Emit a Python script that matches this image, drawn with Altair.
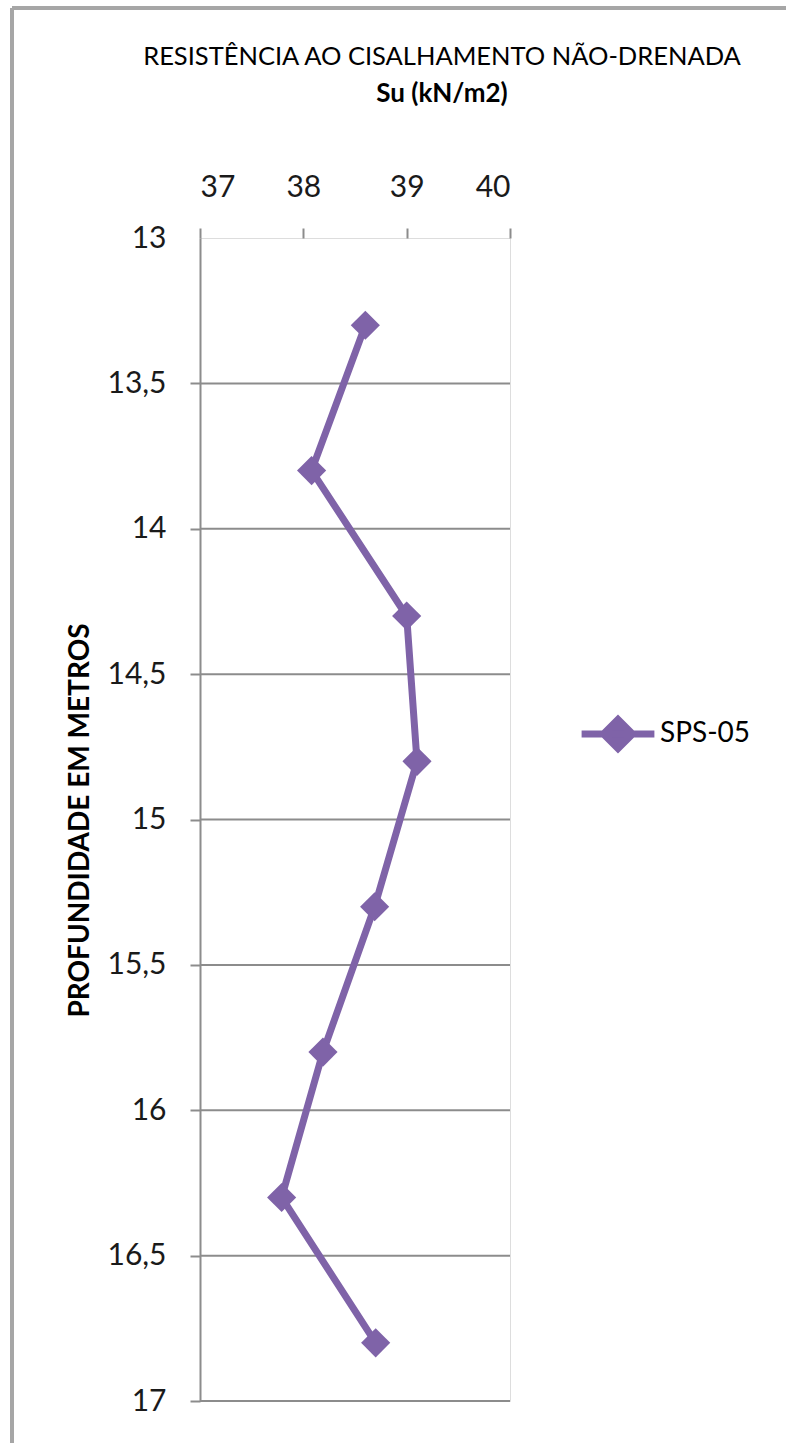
import altair as alt
import pandas as pd

# Data
depth_m = [13.3, 13.8, 14.3, 14.8, 15.3, 15.8, 16.3, 16.8]
su_kn_m2 = [38.60, 38.08, 39.00, 39.10, 38.69, 38.19, 37.79, 38.70]
series_name = ["SPS-05"] * len(depth_m)

x_ticks = [37, 38, 39, 40]
y_ticks = [13, 13.5, 14, 14.5, 15, 15.5, 16, 16.5, 17]
grid_lines = [13.5, 14, 14.5, 15, 15.5, 16, 16.5, 17]

df = pd.DataFrame({"depth": depth_m, "su": su_kn_m2, "serie": series_name})
grid_df = pd.DataFrame({"depth": grid_lines})

PURPLE = "#7F63A8"
GRID = "#8c8c8c"
FONT = "Lato"
HIDE_13 = {"condition": {"test": "datum.value === 13", "value": 0}, "value": 1}

x_scale = alt.Scale(domain=[37, 40], nice=False, zero=False)
y_scale = alt.Scale(domain=[13, 17], reverse=True, nice=False, zero=False)

x_axis = alt.Axis(
    orient="top",
    values=x_ticks,
    format="d",
    title=None,
    grid=False,
    domain=False,
    domainOpacity=0,
    ticks=True,
    tickSize=10,
    tickColor=GRID,
    tickWidth=2,
    labelPadding=26,
    labelFontSize=30,
    labelFont=FONT,
    labelColor="#1a1a1a",
)

grid = alt.Chart(grid_df).mark_rule(color=GRID, strokeWidth=2).encode(
    y=alt.Y("depth:Q", scale=y_scale),
    x=alt.datum(37, scale=x_scale, axis=x_axis),
    x2=alt.datum(40),
)

line = alt.Chart(df).mark_line(
    strokeWidth=7,
    point=alt.OverlayMarkDef(shape="diamond", size=850, filled=True, opacity=1),
).encode(
    x=alt.X("su:Q", scale=x_scale, axis=x_axis),
    y=alt.Y(
        "depth:Q",
        scale=y_scale,
        axis=alt.Axis(
            values=y_ticks,
            format="~g",
            title="PROFUNDIDADE EM METROS",
            titleFont=FONT,
            titleFontSize=28,
            titleFontWeight="bold",
            titleColor="#000000",
            titleAngle=-90,
            titleX=-120,
            titleY=582,
            titleAlign="center",
            titleBaseline="middle",
            grid=False,
            domain=True,
            domainColor=GRID,
            domainWidth=2,
            tickSize=10,
            tickWidth=2,
            tickColor=GRID,
            tickOpacity=HIDE_13,
            labelPadding=24,
            labelFontSize=30,
            labelFont=FONT,
            labelColor="#1a1a1a",
            labelExpr="replace(datum.label, '.', ',')",
        ),
    ),
    order=alt.Order("depth:Q"),
    color=alt.Color(
        "serie:N",
        scale=alt.Scale(range=[PURPLE]),
        legend=alt.Legend(
            title=None,
            orient="none",
            legendX=378,
            legendY=456,
            symbolType="M-1,0L1,0M0,-0.4L0.4,0L0,0.4L-0.4,0Z",
            symbolSize=5300,
            symbolStrokeWidth=7,
            symbolFillColor=PURPLE,
            symbolStrokeColor=PURPLE,
            labelFontSize=28,
            labelFont=FONT,
            labelColor="#000000",
            labelOffset=2,
        ),
    ),
)

frame_left = alt.Chart(df).mark_rule(color="#a6a6a6", strokeWidth=3).encode(
    x=alt.value(-188), y=alt.value(-230), y2=alt.value(1210)
)
frame_top = alt.Chart(df).mark_rule(color="#a6a6a6", strokeWidth=3).encode(
    x=alt.value(-188), x2=alt.value(600), y=alt.value(-230)
)

chart = alt.layer(frame_left, frame_top, grid, line).properties(
    width=310,
    height=1163,
    autosize=alt.AutoSizeParams(type="none"),
    padding={"left": 200, "top": 238, "right": 276, "bottom": 42},
    title=alt.TitleParams(
        text="RESISTÊNCIA AO CISALHAMENTO NÃO-DRENADA",
        subtitle="Su (kN/m2)",
        anchor="middle",
        dx=87,
        dy=100,
        offset=0,
        font=FONT,
        fontSize=25.5,
        fontWeight="normal",
        color="#000000",
        subtitleFont=FONT,
        subtitleFontSize=26,
        subtitleFontWeight="bold",
        subtitleColor="#000000",
        subtitlePadding=10,
    ),
).configure_view(
    stroke="transparent", strokeOpacity=0, strokeWidth=0
).configure(background="white")

chart.save("out.html", embed_options={"renderer": "svg", "actions": False})
